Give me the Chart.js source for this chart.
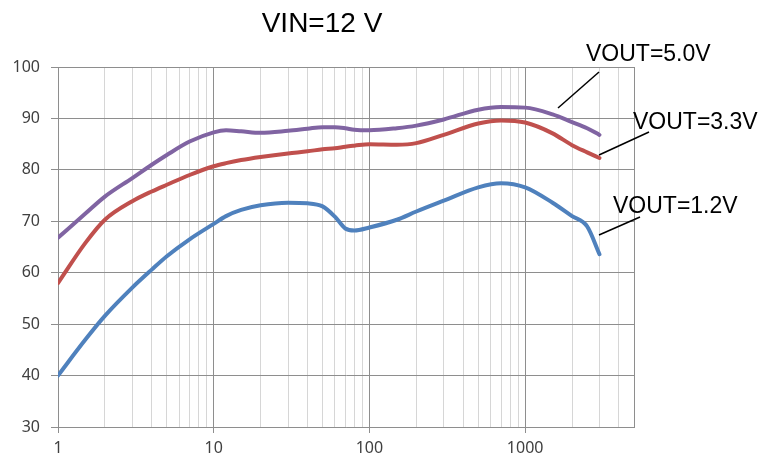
<!DOCTYPE html>
<html>
<head>
<meta charset="utf-8">
<script src="https://cdn.jsdelivr.net/npm/chart.js@4"></script>
<style>
  html, body { margin: 0; padding: 0; background: #ffffff; }
  #wrap { width: 765px; height: 466px; position: relative; }
</style>
</head>
<body>
<div id="wrap"><canvas id="c" width="765" height="466"></canvas></div>
<script>
// ---- data ----
const chartTitle = 'VIN=12 V';
const loadCurrent = [1, 1.5, 2, 3, 4, 5, 7, 10, 12, 15, 20, 30, 40, 50, 60, 70, 80, 100, 150, 200, 300, 500, 700, 1000, 1500, 2000, 2500, 3000];
const eff50 = [66.8, 71.5, 74.8, 78.4, 81.0, 82.9, 85.5, 87.3, 87.7, 87.5, 87.2, 87.6, 88.0, 88.3, 88.3, 88.1, 87.8, 87.7, 88.1, 88.6, 89.8, 91.7, 92.2, 92.1, 90.8, 89.3, 88.1, 86.8];
const eff33 = [58.0, 65.8, 70.3, 73.9, 75.8, 77.1, 79.0, 80.7, 81.3, 81.9, 82.5, 83.2, 83.6, 84.0, 84.2, 84.5, 84.7, 85.0, 84.9, 85.2, 86.8, 89.0, 89.6, 89.2, 87.1, 84.8, 83.4, 82.3];
const eff12 = [40.0, 47.0, 51.6, 57.1, 60.6, 63.2, 66.5, 69.5, 71.0, 72.2, 73.1, 73.6, 73.5, 72.9, 70.9, 68.6, 68.2, 68.8, 70.3, 71.9, 74.0, 76.6, 77.4, 76.6, 73.6, 71.0, 69.0, 63.6];
const seriesNames = ['VOUT=5.0V', 'VOUT=3.3V', 'VOUT=1.2V'];
const xTickLabels = [1, 10, 100, 1000];
const xMin = 1, xMax = 5000;
const yMin = 30, yMax = 100, yStep = 10;

// ---- helpers ----
function pts(ys) { return loadCurrent.map((x, i) => ({ x: x, y: ys[i] })); }
const xGridValues = [];
for (let e = 1; e <= 1000; e *= 10) {
  for (let m = 1; m <= 9; m++) {
    const v = m * e;
    if (v <= xMax) xGridValues.push(v);
  }
}
function isDecade(v) { return xTickLabels.indexOf(v) >= 0; }

const MAJOR = '#8e8e8e', MINOR = '#d6d6d6';

const titlePlugin = {
  id: 'titleText',
  afterDraw(chart) {
    const ctx = chart.ctx;
    ctx.save();
    ctx.fillStyle = '#000';
    ctx.font = '28px "Liberation Sans", Arial, sans-serif';
    ctx.textAlign = 'center';
    ctx.textBaseline = 'alphabetic';
    ctx.fillText(chartTitle, 322, 32);
    ctx.restore();
  }
};

const labelPlugin = {
  id: 'seriesLabels',
  afterDatasetsDraw(chart) {
    const ctx = chart.ctx;
    const specs = [
      { text: seriesNames[0], tx: 586, ty: 61, l: [558, 108, 599, 72] },
      { text: seriesNames[1], tx: 633, ty: 129, l: [599, 155, 649, 132] },
      { text: seriesNames[2], tx: 613, ty: 213, l: [599, 235, 640, 217] }
    ];
    ctx.save();
    ctx.font = '23px "Liberation Sans", Arial, sans-serif';
    ctx.fillStyle = '#000';
    ctx.strokeStyle = '#000';
    ctx.lineWidth = 1.5;
    ctx.textAlign = 'left';
    ctx.textBaseline = 'alphabetic';
    specs.forEach(s => {
      ctx.beginPath();
      ctx.moveTo(s.l[0], s.l[1]);
      ctx.lineTo(s.l[2], s.l[3]);
      ctx.stroke();
      ctx.fillText(s.text, s.tx, s.ty);
    });
    ctx.restore();
  }
};

const ds = (label, data, color) => ({
  label: label,
  data: pts(data),
  borderColor: color,
  backgroundColor: color,
  borderWidth: 4,
  pointRadius: 0,
  fill: false,
  cubicInterpolationMode: 'monotone',
  borderCapStyle: 'round',
  borderJoinStyle: 'round'
});

new Chart(document.getElementById('c'), {
  type: 'line',
  data: {
    datasets: [
      ds(seriesNames[0], eff50, '#8064A2'),
      ds(seriesNames[1], eff33, '#C0504D'),
      ds(seriesNames[2], eff12, '#4F81BD')
    ]
  },
  options: {
    responsive: false,
    animation: false,
    layout: { padding: { left: 0, top: 67, right: 131, bottom: 0 } },
    plugins: {
      legend: { display: false },
      title: { display: false },
      tooltip: { enabled: false }
    },
    scales: {
      x: {
        type: 'logarithmic',
        min: xMin,
        max: xMax,
        afterBuildTicks(scale) {
          scale.ticks = xGridValues.map(v => ({ value: v, major: isDecade(v) }));
        },
        afterFit(scale) { scale.height = 39; },
        border: { display: true, color: MAJOR, width: 1 },
        grid: {
          color: c => (isDecade(c.tick.value) || c.tick.value === xMax) ? MAJOR : MINOR,
          tickColor: c => isDecade(c.tick.value) ? MAJOR : 'rgba(0,0,0,0)',
          tickLength: 6,
          lineWidth: 1
        },
        ticks: {
          autoSkip: false,
          maxRotation: 0,
          minRotation: 0,
          padding: 6,
          color: '#404040',
          font: { family: '"Noto Sans", "Liberation Sans", sans-serif', size: 16 },
          callback: v => isDecade(v) ? String(v) : ''
        }
      },
      y: {
        type: 'linear',
        min: yMin,
        max: yMax,
        afterFit(scale) { scale.width = 58; },
        border: { display: true, color: MAJOR, width: 1 },
        grid: { color: MAJOR, tickColor: MAJOR, tickLength: 7, lineWidth: 1 },
        ticks: {
          stepSize: yStep,
          padding: 11,
          color: '#404040',
          font: { family: '"Noto Sans", "Liberation Sans", sans-serif', size: 16 }
        }
      }
    }
  },
  plugins: [titlePlugin, labelPlugin]
});
</script>
</body>
</html>
